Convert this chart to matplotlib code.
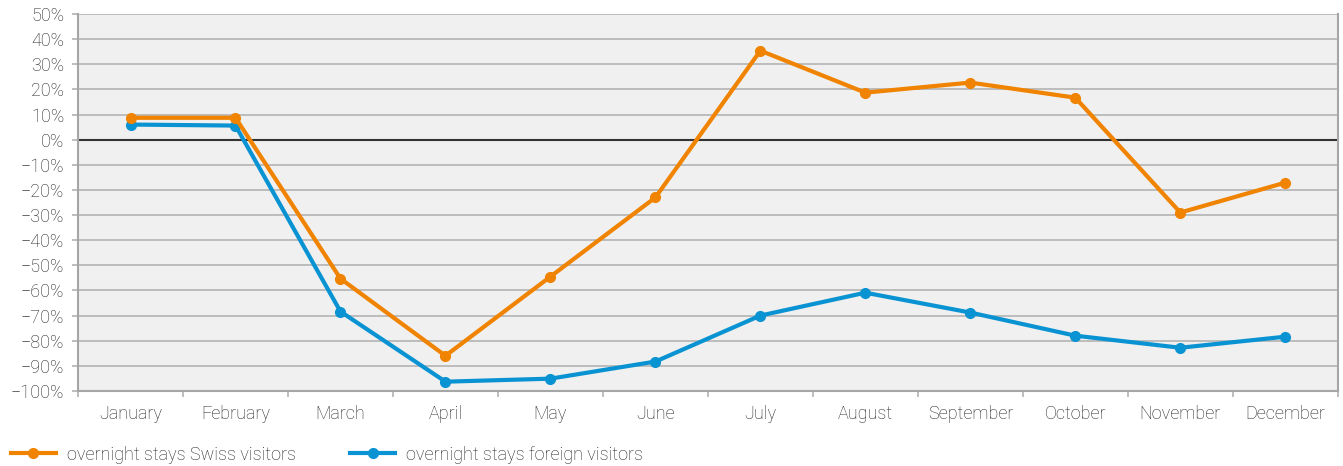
import matplotlib
matplotlib.use("Agg")
import matplotlib.pyplot as plt
from matplotlib.ticker import FixedLocator, FuncFormatter

plt.rcParams['font.family'] = ['Roboto', 'DejaVu Sans']
plt.rcParams['font.weight'] = 'light'

months = ['January', 'February', 'March', 'April', 'May', 'June', 'July',
          'August', 'September', 'October', 'November', 'December']
swiss = [8.7, 8.7, -55.3, -86.0, -54.5, -23.0, 35.4, 18.7, 22.7, 16.7, -29.0, -17.1]
foreign = [6.0, 5.6, -68.4, -96.3, -95.1, -88.3, -70.0, -60.9, -68.8, -78.0, -82.8, -78.4]

orange = '#f08300'
blue = '#0a93d2'
grid_c = '#b3b3b3'
text_c = '#222222'
fs = 13

fig = plt.figure(figsize=(13.43, 4.66), dpi=100)
ax = fig.add_axes([0.0581, 0.161, 0.938, 0.809])
ax.set_facecolor('#f0f0f0')

x = list(range(len(months)))
ax.plot(x, swiss, color=orange, lw=3, marker='o', ms=7, label='overnight stays Swiss visitors', zorder=4)
ax.plot(x, foreign, color=blue, lw=3, marker='o', ms=7, label='overnight stays foreign visitors', zorder=3)

ax.set_xlim(-0.5, 11.5)
ax.set_ylim(-100, 50)
ax.set_yticks(list(range(-100, 51, 10)))
ax.yaxis.set_major_formatter(FuncFormatter(lambda v, p: f'{int(v)}%'.replace('-', '\u2212')))
ax.yaxis.grid(True, color=grid_c, lw=1.2)
ax.set_axisbelow(True)
ax.axhline(0, color='#333333', lw=1.5, zorder=2)

ax.set_xticks(x)
ax.set_xticklabels(months)
ax.xaxis.set_minor_locator(FixedLocator([i - 0.5 for i in range(13)]))
ax.tick_params(axis='x', which='major', length=0, pad=10, labelsize=fs, colors=text_c)
ax.tick_params(axis='x', which='minor', length=4, color=grid_c, width=1.2)
ax.tick_params(axis='y', length=4, color=grid_c, width=1.2, labelsize=fs, colors=text_c, pad=6)

ax.spines['top'].set_visible(False)
for s in ['left', 'right', 'bottom']:
    ax.spines[s].set_color('#a6a6a6')
    ax.spines[s].set_linewidth(1.5)

leg = fig.legend(loc='lower left', bbox_to_anchor=(-0.004, -0.03), ncol=2, frameon=False,
                 fontsize=fs, handlelength=2.5, columnspacing=3.0, handletextpad=0.6)
for t in leg.get_texts():
    t.set_color(text_c)

fig.savefig('out.png', dpi=100)
